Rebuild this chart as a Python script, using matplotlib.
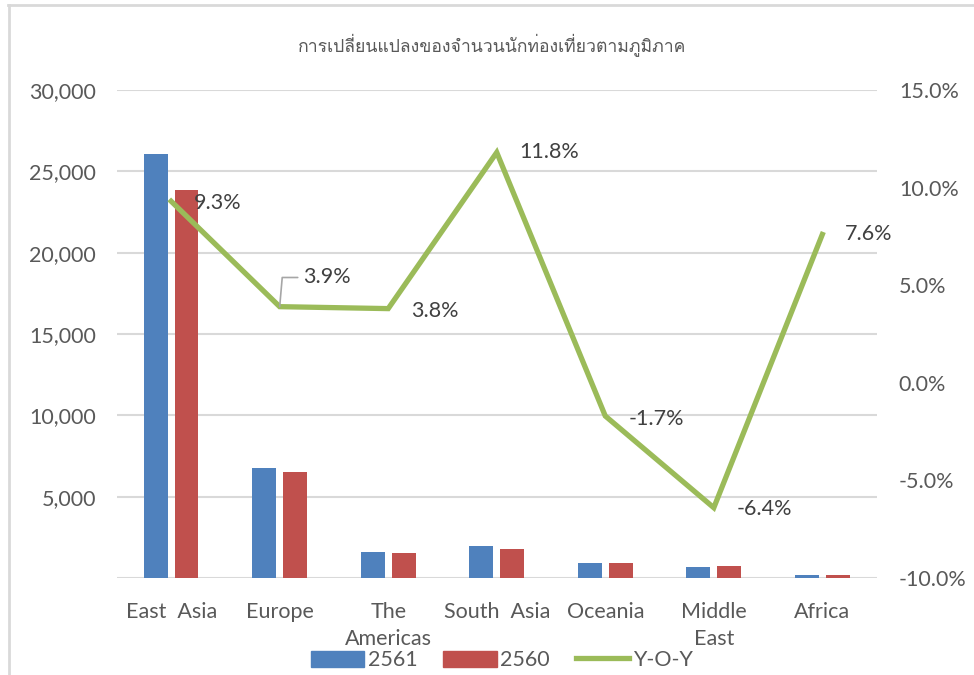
import matplotlib
matplotlib.use("Agg")
import matplotlib.pyplot as plt
from matplotlib import font_manager
from matplotlib.ft2font import FT2Font
from matplotlib.lines import Line2D
from matplotlib.patches import Patch
import numpy as np

# data
regions = ["East  Asia", "Europe", "The\nAmericas", "South  Asia", "Oceania", "Middle\nEast", "Africa"]
v2561 = [26070, 6760, 1600, 1970, 920, 680, 185]
v2560 = [23850, 6510, 1540, 1780, 940, 725, 172]
yoy = [9.3, 3.9, 3.8, 11.8, -1.7, -6.4, 7.6]
title = "การเปลี่ยนแปลงของจำนวนนักท่องเที่ยวตามภูมิภาค"

# find a font that has thai glyphs
thai_font = None
for f in font_manager.fontManager.ttflist:
    try:
        if 0x0E01 in FT2Font(f.fname).get_charmap():
            thai_font = f.name
            break
    except Exception:
        pass

base = "Lato"
fams = [base, "DejaVu Sans"]
plt.rcParams['font.family'] = fams
tcol = "#595959"
blue, red, green = "#4F81BD", "#C0504D", "#9BBB59"
grid = "#D9D9D9"
fs = 15.5

fig = plt.figure(figsize=(9.74, 6.75), dpi=100)
ax = fig.add_axes([0.120, 0.1437, 0.780, 0.723])
ax2 = ax.twinx()

x = np.arange(len(regions))
w = 0.22
ax.bar(x - 0.142, v2561, w, color=blue, zorder=2)
ax.bar(x + 0.142, v2560, w, color=red, zorder=2)

ax.set_xlim(-0.5, len(regions) - 0.5)
ax.set_ylim(0, 30000)
ax.set_yticks(np.arange(0, 30001, 5000))
ax.set_yticklabels([f"{t:,}" if t else "" for t in range(0, 30001, 5000)])
ax.yaxis.grid(True, color=grid, lw=1.5, zorder=0)
ax.set_axisbelow(True)
ax.set_xticks(x)
ax.set_xticklabels(regions, linespacing=1.45)
for s in ax.spines.values():
    s.set_visible(False)
for s in ax2.spines.values():
    s.set_visible(False)
ax.tick_params(axis='both', length=0, labelsize=fs, labelcolor=tcol)
ax.tick_params(axis='y', pad=15)
ax.tick_params(axis='x', pad=17)

ax2.plot(x, yoy, color=green, lw=3.8, solid_joinstyle='miter', zorder=3)
ax2.set_ylim(-10, 15)
ax2.set_yticks(np.arange(-10, 15.1, 5))
ax2.set_yticklabels([f"{t:.1f}%" for t in np.arange(-10, 15.1, 5)])
ax2.tick_params(axis='y', length=0, labelsize=fs, labelcolor=tcol, pad=16)

lab_col = "#404040"
for i, v in enumerate(yoy):
    txt = f"{v:.1f}%"
    if i == 1:
        ax2.annotate(txt, (x[i], v), xytext=(17, 21), textcoords='offset points',
                     ha='left', va='center', fontsize=fs, color=lab_col,
                     arrowprops=dict(arrowstyle='-', color="#A6A6A6", lw=1.2,
                                     shrinkA=2, shrinkB=0,
                                     connectionstyle="angle,angleA=0,angleB=85,rad=0"))
    else:
        dy = {0: -1.5, 2: -1.5, 4: -2.5, 5: -1}.get(i, 0)
        ax2.annotate(txt, (x[i], v), xytext=(16.5, dy), textcoords='offset points',
                     ha='left', va='center', fontsize=fs, color=lab_col)

# bottom axis line
ax.axhline(0, color=grid, lw=1.8, zorder=1)

fig.text(0.505, 0.933, title, ha='center', va='center', fontsize=12.7, color=tcol,
         family=[thai_font] + fams if thai_font else fams)

handles = [Patch(color=blue), Patch(color=red), Line2D([], [], color=green, lw=3.8)]
fig.legend(handles, ["2561", "2560", "Y-O-Y"], loc='center', bbox_to_anchor=(0.515, 0.022),
           ncol=3, frameon=False, fontsize=fs, labelcolor=tcol, handlelength=2.5,
           handletextpad=0.15, columnspacing=1.2, handleheight=0.75)

# chart border (top and left)
fig.add_artist(Line2D([0.0085, 1.0], [0.993, 0.993], color=grid, lw=2, transform=fig.transFigure))
fig.add_artist(Line2D([0.0095, 0.0095], [0.0, 0.993], color=grid, lw=2, transform=fig.transFigure))

fig.savefig("out.png", dpi=100)
